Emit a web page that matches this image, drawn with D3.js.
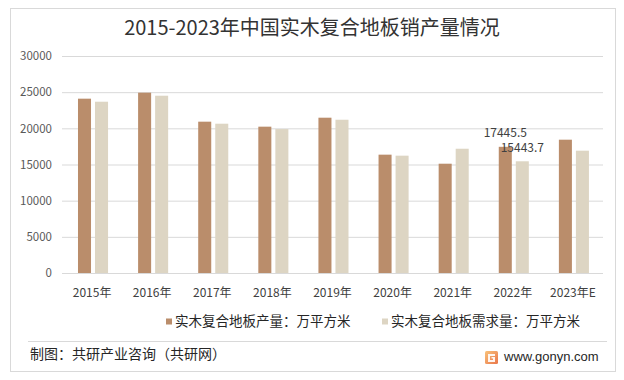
<!DOCTYPE html>
<html>
<head>
<meta charset="utf-8">
<script src="https://cdn.jsdelivr.net/npm/d3@7"></script>
<style>
  html, body { margin: 0; padding: 0; background: #fff; }
  svg { display: block; font-family: "Microsoft YaHei", "Noto Sans CJK SC", "Noto Sans", sans-serif; }
</style>
</head>
<body>
<svg id="chart" width="624" height="380"></svg>
<script>
const categories = ["2015年","2016年","2017年","2018年","2019年","2020年","2021年","2022年","2023年E"];
const seriesNames = ["实木复合地板产量：万平方米","实木复合地板需求量：万平方米"];
const production = [24100, 24930, 20920, 20230, 21470, 16360, 15110, 17445.5, 18430];
const demand     = [23680, 24510, 20640, 19900, 21190, 16220, 17180, 15443.7, 16910];
const yTicks = [0, 5000, 10000, 15000, 20000, 25000, 30000];
const labeledIndex = [7];
const colors = ["#BA8D6B", "#DDD5C3"];

const svg = d3.select("#chart");
const plot = {left: 62, right: 603, top: 56, bottom: 273};

// outer frame
svg.append("rect").attr("x", 10.5).attr("y", 8.5).attr("width", 605).attr("height", 363)
  .attr("fill", "#fff").attr("stroke", "#d9d9d9");

// title
svg.append("text").attr("x", 312).attr("y", 30).attr("text-anchor", "middle")
  .attr("dominant-baseline", "middle").attr("font-size", 20).attr("fill", "#333")
  .text("2015-2023年中国实木复合地板销产量情况");

const x = d3.scaleBand().domain(categories).range([plot.left, plot.right]).paddingInner(0).paddingOuter(0);
const bw = x.bandwidth();
const x1 = d3.scaleBand().domain([0,1]).range([bw*0.266, bw*0.766]).paddingInner(0.235).paddingOuter(0);
const y = d3.scaleLinear().domain([0, 30000]).range([plot.bottom, plot.top]);

// grid lines + y labels
const yAxis = d3.axisLeft(y).tickValues(yTicks).tickFormat(d3.format("d"))
  .tickSize(-(plot.right - plot.left)).tickPadding(10);
const gy = svg.append("g").attr("transform", `translate(${plot.left},0)`).call(yAxis);
gy.select(".domain").remove();
gy.selectAll(".tick line").attr("stroke", "#d9d9d9").attr("stroke-width", 1);
gy.selectAll(".tick text").attr("fill", "#595959").attr("font-size", 11.5)
  .attr("font-family", "\"Microsoft YaHei\", \"Noto Sans CJK SC\", sans-serif");

// bars
const data = categories.map((c, i) => ({c, vals: [production[i], demand[i]]}));
const groups = svg.append("g").selectAll("g").data(data).join("g")
  .attr("transform", d => `translate(${x(d.c)},0)`);
groups.selectAll("rect").data(d => d.vals.map((v, k) => ({v, k}))).join("rect")
  .attr("x", d => x1(d.k)).attr("width", x1.bandwidth())
  .attr("y", d => y(d.v)).attr("height", d => y(0) - y(d.v))
  .attr("fill", d => colors[d.k]);

// data labels
labeledIndex.forEach(i => {
  [production[i], demand[i]].forEach((v, k) => {
    svg.append("text")
      .attr("x", x(categories[i]) + x1(k) + x1.bandwidth()/2)
      .attr("y", y(v) - 13)
      .attr("text-anchor", "middle").attr("dominant-baseline", "middle")
      .attr("font-size", 12).attr("fill", "#404040")
      .text(v.toFixed(1));
  });
});

// x axis labels
const xAxis = d3.axisBottom(x).tickSize(0).tickPadding(0);
const gx = svg.append("g").attr("transform", `translate(0,${plot.bottom})`).call(xAxis);
gx.select(".domain").remove();
gx.selectAll(".tick text").attr("y", 21).attr("dy", "0").attr("dominant-baseline", "middle")
  .attr("fill", "#404040").attr("font-size", 12)
  .attr("font-family", "\"Microsoft YaHei\", \"Noto Sans CJK SC\", sans-serif");

// legend
const legendX = [166, 382];
seriesNames.forEach((name, k) => {
  const g = svg.append("g").attr("transform", `translate(${legendX[k]},322)`);
  g.append("rect").attr("x", 0).attr("y", -3.5).attr("width", 6).attr("height", 6).attr("fill", colors[k]);
  g.append("text").attr("x", 9).attr("y", 0).attr("dominant-baseline", "middle")
    .attr("font-size", 13.5).attr("fill", "#262626").text(name);
});

// footer
svg.append("line").attr("x1", 28).attr("x2", 607).attr("y1", 341.5).attr("y2", 341.5)
  .attr("stroke", "#d9d9d9");
svg.append("text").attr("x", 30).attr("y", 355).attr("dominant-baseline", "middle")
  .attr("font-size", 14).attr("fill", "#262626").text("制图：共研产业咨询（共研网）");

const defs = svg.append("defs");
const grad = defs.append("linearGradient").attr("id", "logoGrad").attr("x1", 0).attr("y1", 0).attr("x2", 1).attr("y2", 1);
grad.append("stop").attr("offset", "0%").attr("stop-color", "#f9c27a");
grad.append("stop").attr("offset", "100%").attr("stop-color", "#e9764a");
const logo = svg.append("g").attr("transform", "translate(485,351)");
logo.append("rect").attr("width", 13).attr("height", 13).attr("rx", 1.5).attr("fill", "url(#logoGrad)");
logo.append("path").attr("d", "M3,3 H10 V5 H5 V9 H8 V7.5 H6.5 V6 H10 V11 H3 Z").attr("fill", "#fff").attr("fill-opacity", 0.9);
svg.append("text").attr("x", 504).attr("y", 358).attr("dominant-baseline", "middle")
  .attr("font-size", 13).attr("font-family", "Arial, \"Liberation Sans\", sans-serif")
  .attr("fill", "#262626").text("www.gonyn.com");
</script>
</body>
</html>
